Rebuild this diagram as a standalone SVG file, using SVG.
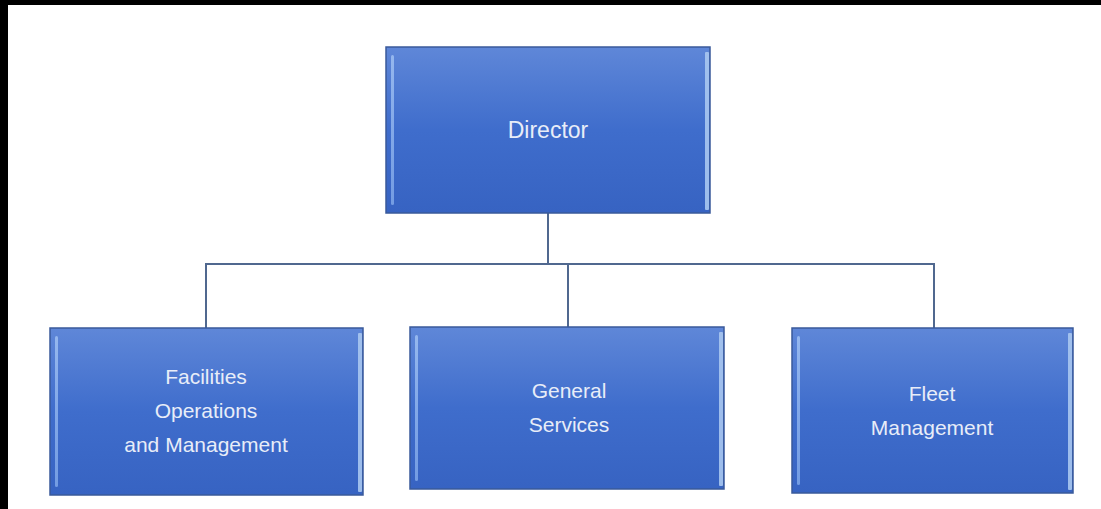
<svg xmlns="http://www.w3.org/2000/svg" width="1101" height="509" viewBox="0 0 1101 509">
<defs>
<linearGradient id="g" x1="0" y1="0" x2="0" y2="1">
<stop offset="0" stop-color="#5f87d8"/>
<stop offset="0.5" stop-color="#3f6dcc"/>
<stop offset="1" stop-color="#3763c2"/>
</linearGradient>
<linearGradient id="hl" x1="0" y1="0" x2="0" y2="1">
<stop offset="0" stop-color="#9fc0f2"/>
<stop offset="1" stop-color="#7ea6e8"/>
</linearGradient>
<style>
.box{fill:url(#g);stroke:#3a5a9a;stroke-width:1.5}
.edgeL{fill:url(#hl);opacity:0.85}
.edgeR{fill:#a8c6f0;opacity:0.9}
.t{font-family:"Liberation Sans",Arial,sans-serif;font-size:21px;fill:#e8edf8;text-anchor:middle}
.c{fill:none;stroke:#50688f;stroke-width:2}
</style>
</defs>
<rect width="1101" height="509" fill="#ffffff"/>
<rect x="0" y="0" width="1101" height="5" fill="#000"/>
<rect x="0" y="0" width="8" height="509" fill="#000"/>
<g id="connectors">
<path class="c" d="M548 213 V264 H568 V327"/>
<path class="c" d="M206 328 V264 H548"/>
<path class="c" d="M568 264 H934 V328"/>
</g>
<g id="director">
<rect class="box" x="386" y="47" width="324" height="166"/>
<rect class="edgeL" x="391" y="55" width="3" height="150" rx="1.5"/>
<rect class="edgeR" x="705" y="52" width="4" height="158" rx="1"/>
<text class="t" x="548" y="138" style="font-size:23px">Director</text>
</g>
<g id="facilities">
<rect class="box" x="50" y="328" width="313" height="167"/>
<rect class="edgeL" x="55" y="336" width="3" height="151" rx="1.5"/>
<rect class="edgeR" x="358" y="333" width="4" height="159" rx="1"/>
<text class="t" x="206" y="384">Facilities</text>
<text class="t" x="206" y="418">Operations</text>
<text class="t" x="206" y="452">and Management</text>
</g>
<g id="general">
<rect class="box" x="410" y="327" width="314" height="162"/>
<rect class="edgeL" x="415" y="335" width="3" height="146" rx="1.5"/>
<rect class="edgeR" x="719" y="332" width="4" height="154" rx="1"/>
<text class="t" x="569" y="398">General</text>
<text class="t" x="569" y="432">Services</text>
</g>
<g id="fleet">
<rect class="box" x="792" y="328" width="281" height="165"/>
<rect class="edgeL" x="797" y="336" width="3" height="149" rx="1.5"/>
<rect class="edgeR" x="1068" y="333" width="4" height="157" rx="1"/>
<text class="t" x="932" y="401">Fleet</text>
<text class="t" x="932" y="435">Management</text>
</g>
</svg>
